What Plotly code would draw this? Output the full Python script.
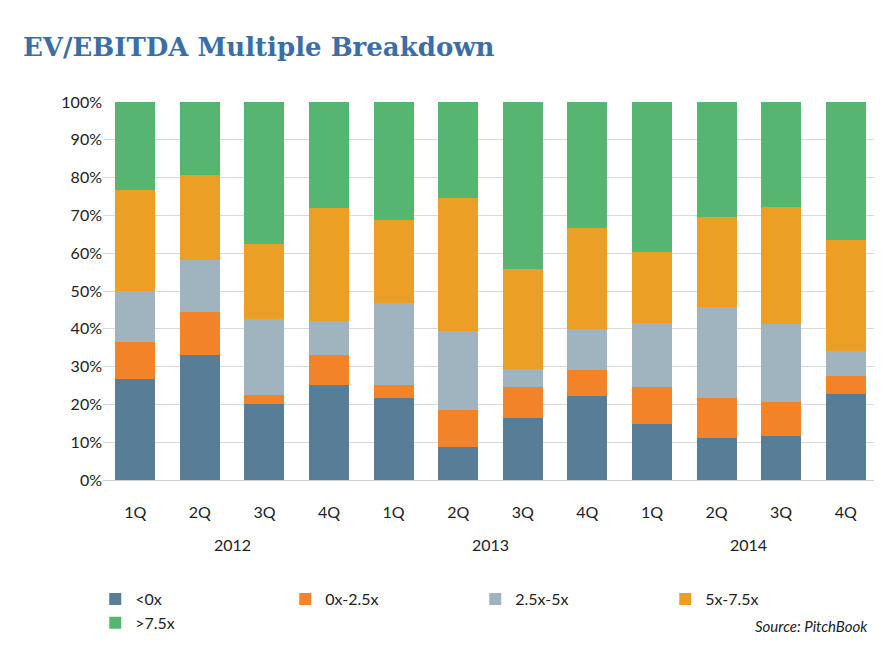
import plotly.graph_objects as go

quarters = ["1Q","2Q","3Q","4Q"]*3
years = ["2012","2013","2014"]
series = ["<0x","0x-2.5x","2.5x-5x","5x-7.5x",">7.5x"]
colors = ["#587d96","#f28329","#a0b4c0","#eb9f25","#56b570"]
neg = [26.6,33.2,20.0,25.2,21.8,8.8,16.5,22.3,14.9,11.0,11.7,22.8]
a0_25 = [10.0,11.2,2.5,7.8,3.4,9.7,8.1,6.7,9.7,10.8,9.0,4.6]
a25_5 = [13.5,13.9,20.1,9.1,21.7,21.0,4.8,11.0,17.0,23.9,20.6,6.8]
a5_75 = [26.5,22.3,19.9,29.8,21.8,35.0,26.3,26.6,18.8,23.9,30.8,29.4]
a75 = [23.4,19.4,37.5,28.1,31.3,25.5,44.3,33.4,39.6,30.4,27.9,36.4]
vals = [neg,a0_25,a25_5,a5_75,a75]

x = list(range(12))
fig = go.Figure()
for name, c, v in zip(series, colors, vals):
    fig.add_bar(x=x, y=v, name=name, marker_color=c, marker_line_width=0)

fig.update_layout(
    barmode="stack", bargap=0.38, width=882, height=665,
    paper_bgcolor="white", plot_bgcolor="white",
    margin=dict(l=95, r=12, t=94, b=193),
    font=dict(family="Lato, DejaVu Sans", size=16, color="#222"),
    title=dict(text="<b>EV/EBITDA Multiple Breakdown</b>", x=0.017, y=0.955, xanchor="left",
               font=dict(family="DejaVu Serif", size=26, color="#3b6ea5")),
    showlegend=True,
    legend=dict(orientation="h", x=-0.01, y=-0.27, xanchor="left", yanchor="top",
                font=dict(size=16), traceorder="normal", entrywidth=145),
    xaxis=dict(tickmode="array", tickvals=x, ticktext=quarters, showgrid=False,
               ticks="", range=[-0.5, 11.5], showline=True, linecolor="#ccc",
               ticklabelstandoff=18),
    yaxis=dict(range=[0, 100], tickvals=list(range(0, 101, 10)),
               ticktext=[f"{v}%" for v in range(0, 101, 10)],
               gridcolor="#d9d9d9", zeroline=False, ticks=""),
)
for i, yr in enumerate(years):
    fig.add_annotation(x=4*i+1.5, y=-0.2, yref="paper", text=yr, showarrow=False,
                       font=dict(size=16))
fig.add_annotation(x=0.99, y=-0.415, xref="paper", yref="paper", text="<i>Source: PitchBook</i>",
                   showarrow=False, xanchor="right", font=dict(size=15))
fig.write_html("out.html")
